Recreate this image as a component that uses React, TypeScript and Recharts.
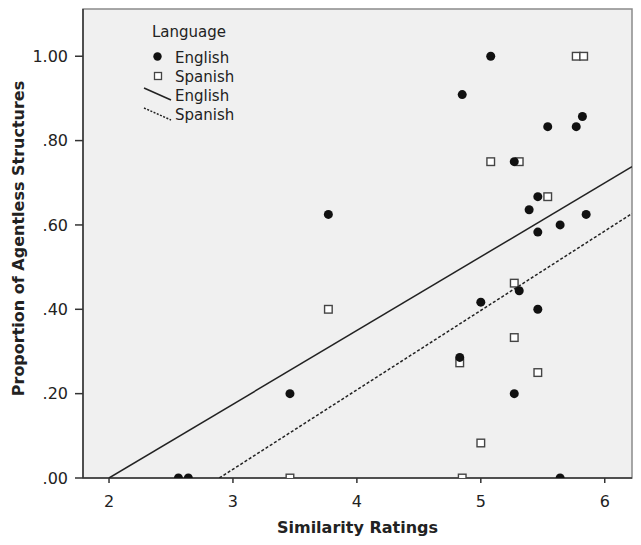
import {
  ComposedChart,
  Scatter,
  XAxis,
  YAxis,
  CartesianGrid,
  ReferenceArea,
  Customized,
} from "recharts";

// similarity rating (x) vs proportion of agentless structures (y)
const englishX = [5.08, 4.85, 5.82, 5.54, 5.77, 5.27, 3.77, 5.46, 5.39, 5.85, 5.64, 5.46, 5.31, 5.0, 5.46, 4.83, 3.46, 5.27, 2.56, 2.64, 5.64];
const englishY = [1.0, 0.909, 0.857, 0.833, 0.833, 0.75, 0.625, 0.667, 0.636, 0.625, 0.6, 0.583, 0.444, 0.417, 0.4, 0.286, 0.2, 0.2, 0, 0, 0];

const spanishX = [5.77, 5.83, 5.08, 5.31, 5.54, 5.27, 3.77, 5.27, 4.83, 5.46, 5.0, 3.46, 4.85];
const spanishY = [1.0, 1.0, 0.75, 0.75, 0.667, 0.462, 0.4, 0.333, 0.273, 0.25, 0.083, 0, 0];

// fitted lines, end points
const englishFitX = [2.0, 6.22];
const englishFitY = [0, 0.738];
const spanishFitX = [2.89, 6.22];
const spanishFitY = [0, 0.627];

const xTicks = [2, 3, 4, 5, 6];
const yTicks = [0, 0.2, 0.4, 0.6, 0.8, 1.0];
const xDomain = [1.79, 6.22];
const yDomain = [0, 1.112];

const legendTitle = "Language";
const legendLabels = ["English", "Spanish", "English", "Spanish"];

const FONT = "DejaVu Sans, sans-serif";
const zip = (xs: number[], ys: number[]) => xs.map((x, i) => ({ x, y: ys[i] }));

const englishData = zip(englishX, englishY);
const spanishData = zip(spanishX, spanishY);
const englishFit = zip(englishFitX, englishFitY);
const spanishFit = zip(spanishFitX, spanishFitY);

const fmtY = (v: number) => (v === 1 ? "1.00" : v.toFixed(2).replace(/^0/, ""));

const Dot = (props: any) => <circle cx={props.cx} cy={props.cy} r={4.5} fill="#111" />;
const Box = (props: any) => (
  <rect x={props.cx - 3.8} y={props.cy - 3.8} width={7.6} height={7.6} fill="#fff" stroke="#444" strokeWidth={1.4} />
);
const NoShape = () => <g />;

function LegendBox() {
  const textStyle = { fontFamily: FONT, fontSize: 15, fill: "#222" };
  return (
    <g>
      <text x={152} y={32} dominantBaseline="central" style={textStyle}>{legendTitle}</text>
      <circle cx={157.5} cy={56.5} r={4.2} fill="#111" />
      <text x={175} y={58} dominantBaseline="central" style={textStyle}>{legendLabels[0]}</text>
      <rect x={154.5} y={72.5} width={7} height={7} fill="#fff" stroke="#444" strokeWidth={1.3} />
      <text x={175} y={77} dominantBaseline="central" style={textStyle}>{legendLabels[1]}</text>
      <line x1={144} y1={88} x2={171} y2={100} stroke="#222" strokeWidth={1.5} />
      <text x={175} y={96} dominantBaseline="central" style={textStyle}>{legendLabels[2]}</text>
      <line x1={144} y1={108} x2={171} y2={120} stroke="#222" strokeWidth={1.5} strokeDasharray="2 1.5" />
      <text x={175} y={115} dominantBaseline="central" style={textStyle}>{legendLabels[3]}</text>
    </g>
  );
}

export default function App() {
  return (
    <div style={{ position: "absolute", left: 0, top: 0, background: "#fff" }}>
      <ComposedChart width={641} height={545} margin={{ top: 9, right: 9, bottom: 0, left: 0 }}>
        <CartesianGrid horizontal={false} vertical={false} fill="#f0f0f0" fillOpacity={1} />
        <Customized component={LegendBox} />
        <ReferenceArea
          x1={xDomain[0]}
          x2={xDomain[1]}
          y1={yDomain[0]}
          y2={yDomain[1]}
          fill="none"
          fillOpacity={0}
          stroke="#8a8a8a"
          strokeWidth={1.5}
        />
        <XAxis
          type="number"
          dataKey="x"
          domain={xDomain}
          ticks={xTicks}
          allowDataOverflow
          height={67}
          tickSize={5}
          tickMargin={13}
          axisLine={{ stroke: "#333", strokeWidth: 1.5 }}
          tickLine={{ stroke: "#333", strokeWidth: 1.5 }}
          tick={{ fill: "#222", fontSize: 16, fontFamily: FONT }}
          label={{
            value: "Similarity Ratings",
            position: "insideBottom",
            offset: 12,
            style: { fontFamily: FONT, fontSize: 16, fontWeight: "bold", fill: "#222" },
          }}
        />
        <YAxis
          type="number"
          dataKey="y"
          domain={yDomain}
          ticks={yTicks}
          allowDataOverflow
          width={83}
          tickSize={8}
          tickMargin={7}
          tickFormatter={fmtY}
          axisLine={{ stroke: "#333", strokeWidth: 1.5 }}
          tickLine={{ stroke: "#333", strokeWidth: 1.5 }}
          tick={{ fill: "#222", fontSize: 16, fontFamily: FONT }}
          label={{
            content: (p: any) => {
              const vb = p.viewBox || { x: 0, y: 9, width: 83, height: 469 };
              const cx = 18;
              const cy = vb.y + vb.height / 2 - 5;
              return (
                <text
                  x={cx}
                  y={cy}
                  transform={`rotate(-90 ${cx} ${cy})`}
                  textAnchor="middle"
                  dominantBaseline="central"
                  style={{ fontFamily: FONT, fontSize: 16, fontWeight: "bold", fill: "#222" }}
                >
                  Proportion of Agentless Structures
                </text>
              );
            },
          }}
        />
        <Scatter
          data={englishFit}
          line={{ stroke: "#222", strokeWidth: 1.5 }}
          shape={NoShape}
          isAnimationActive={false}
        />
        <Scatter
          data={spanishFit}
          line={{ stroke: "#222", strokeWidth: 1.5, strokeDasharray: "3 2" }}
          shape={NoShape}
          isAnimationActive={false}
        />
        <Scatter data={spanishData} shape={Box} isAnimationActive={false} />
        <Scatter data={englishData} shape={Dot} isAnimationActive={false} />
      </ComposedChart>
    </div>
  );
}
